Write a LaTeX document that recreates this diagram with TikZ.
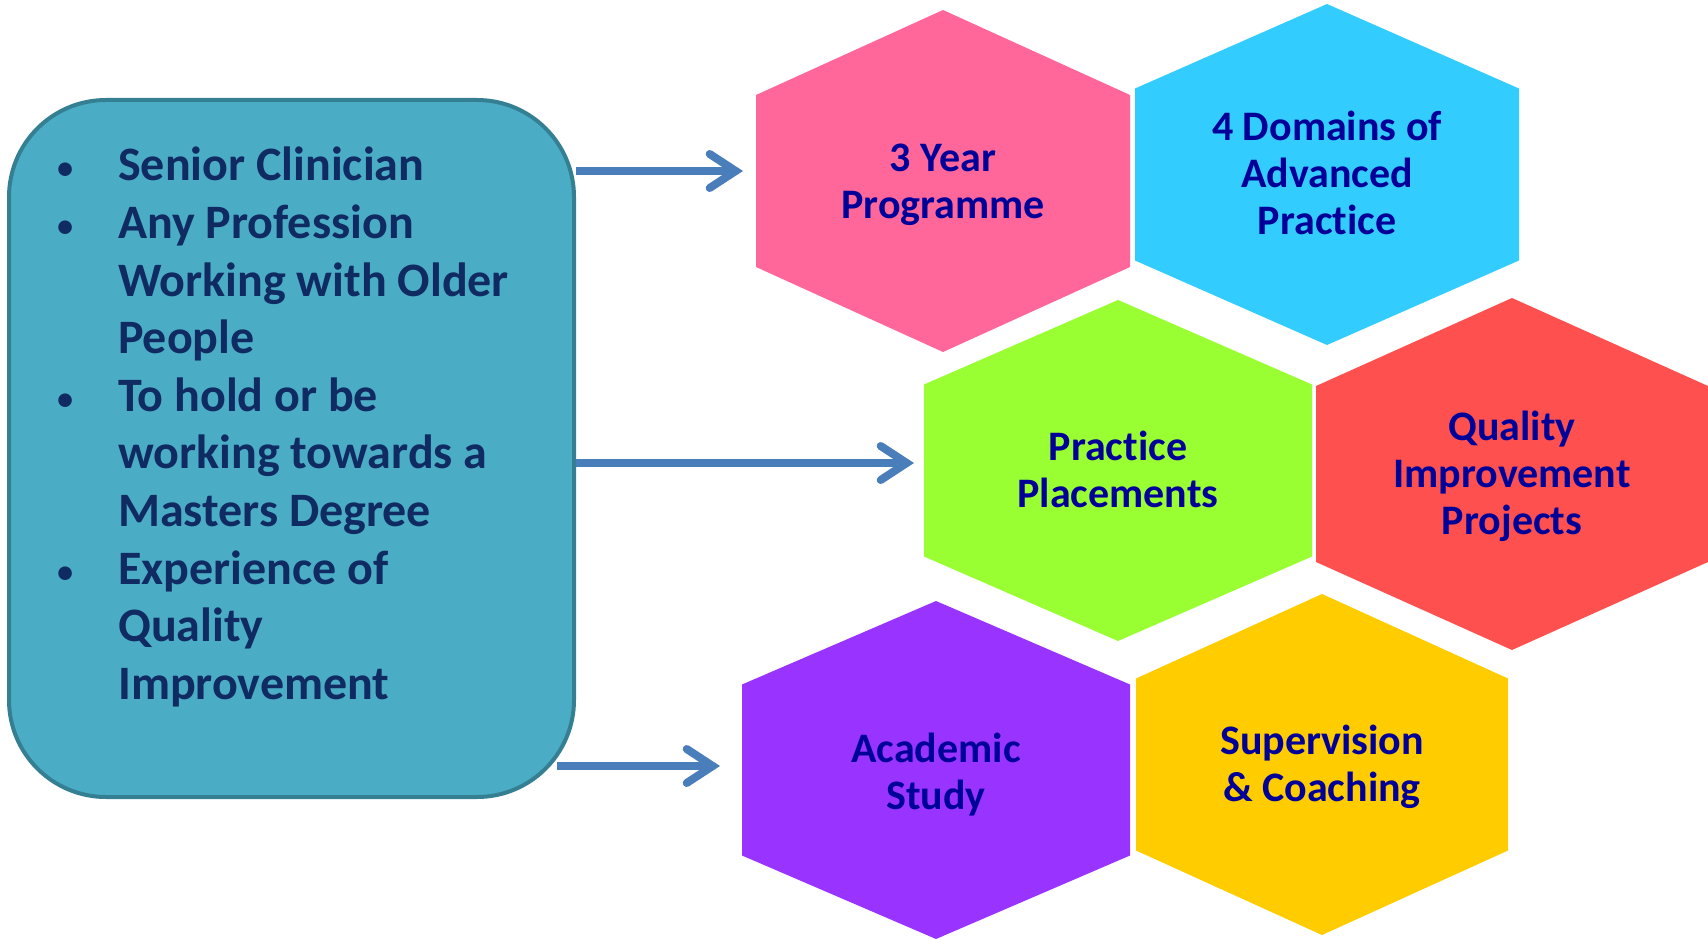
\documentclass[tikz,border=0pt]{standalone}
\usepackage{fontspec}
\setmainfont{Carlito}[Ligatures=NoCommon]
\usetikzlibrary{arrows.meta}
\definecolor{boxfill}{HTML}{4BACC6}
\definecolor{boxborder}{HTML}{357F93}
\definecolor{lefttextc}{HTML}{102A62}
\definecolor{hextextc}{HTML}{000099}
\definecolor{arrowblue}{HTML}{4A7EBB}
\definecolor{hexpink}{HTML}{FF6699}
\definecolor{hexblue}{HTML}{33CCFF}
\definecolor{hexgreen}{HTML}{99FF33}
\definecolor{hexred}{HTML}{FF5050}
\definecolor{hexpurple}{HTML}{9933FF}
\definecolor{hexyellow}{HTML}{FFCC00}
\newcommand\bulitem{\llap{\makebox[0pt][c]{\mdseries\scalebox{0.8}{•}}\hspace{53pt}}}
\newcommand\hexcell[9]{%
  \fill[#7] (#2,#3-#5) -- (#2+#4,#3-#6) -- (#2+#4,#3+#6) -- (#2,#3+#5)
    -- (#2-#4,#3+#6) -- (#2-#4,#3-#6) -- cycle;
  \node[hextext] (#1) at (#2,#3+#9) {#8};}
\tikzset{
  hextext/.style={align=center, inner sep=0pt, text=hextextc,
    font=\fontsize{42}{47}\selectfont\bfseries},
  lefttext/.style={align=left, inner sep=0pt, text=lefttextc,
    font=\fontsize{48}{57.6}\selectfont\bfseries},
  leftbox/.style={draw=boxborder, line width=4pt, fill=boxfill,
    rounded corners=97pt, minimum width=565pt, minimum height=697pt, inner sep=0pt},
  arr/.style={draw=arrowblue, line width=8pt,
    -{Straight Barb[length=26pt,width=34pt,line cap=round]}}
}
\begin{document}
\begin{tikzpicture}[x=1pt,y=-1pt]
\useasboundingbox (0,0) rectangle (1708,939);
% hexagons
\hexcell{prog}{943}{181}{187}{171}{86}{hexpink}{3 Year\\Programme}{3.3}
\hexcell{dom}{1327}{174.5}{192}{170.5}{86}{hexblue}{4 Domains of\\Advanced\\Practice}{-2}
\hexcell{place}{1118}{470.5}{194}{170.5}{86}{hexgreen}{Practice\\Placements}{-1}
\hexcell{qip}{1512}{474}{196}{176}{88}{hexred}{Quality\\Improvement\\Projects}{2.5}
\hexcell{acad}{936}{770}{194}{169}{85.5}{hexpurple}{Academic\\Study}{4.4}
\hexcell{sup}{1322}{764.5}{186}{170.5}{86}{hexyellow}{Supervision\\\& Coaching}{2}
% left box
\node[leftbox] (box) at (291.5,448.5) {};
\node[lefttext, anchor=north west] (list) at (118,147) {%
\bulitem Senior Clinician\\
\bulitem Any Profession\\
Working with Older\\
People\\
\bulitem To hold or be\\
working towards a\\
Masters Degree\\
\bulitem Experience of\\
Quality\\
Improvement};
% arrows
\coordinate (t1) at (743,171);
\coordinate (t2) at (914,463);
\coordinate (s3) at (557,766);
\coordinate (t3) at (720,766);
\draw[arr] (box.east |- t1) -- (t1);
\draw[arr] (box.east |- t2) -- (t2);
\draw[arr] (s3) -- (t3);
\end{tikzpicture}
\end{document}
